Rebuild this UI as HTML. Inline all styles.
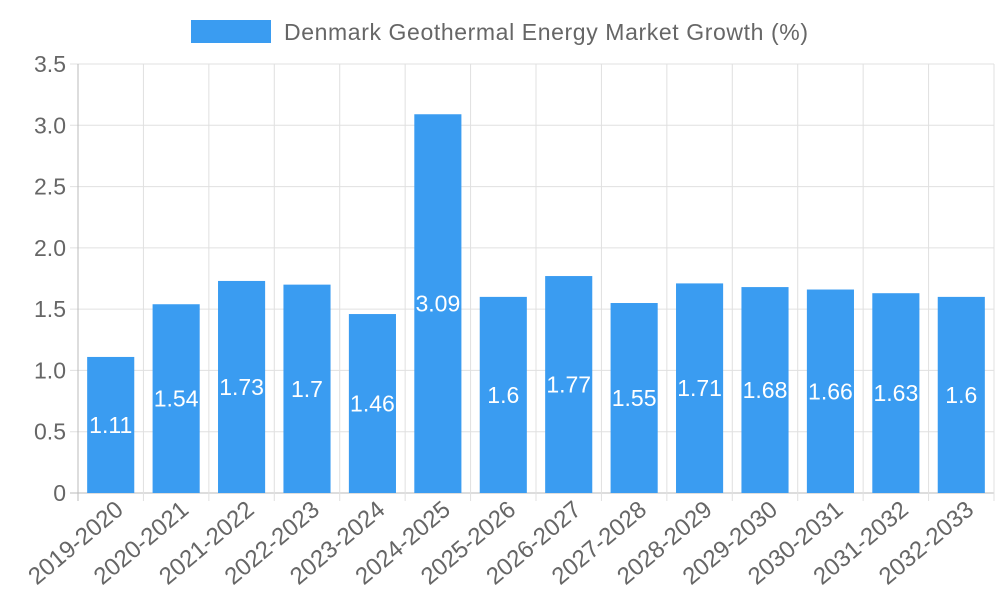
<!DOCTYPE html>
<html><head><meta charset="utf-8"><style>
html,body{margin:0;padding:0;background:#fff;}
svg{display:block;font-family:"Liberation Sans",sans-serif;}
</style></head><body>
<svg id="chart" width="1000" height="600"></svg>
<script>
const categories=["2019-2020","2020-2021","2021-2022","2022-2023","2023-2024","2024-2025","2025-2026","2026-2027","2027-2028","2028-2029","2029-2030","2030-2031","2031-2032","2032-2033"];
const values=[1.11,1.54,1.73,1.7,1.46,3.09,1.6,1.77,1.55,1.71,1.68,1.66,1.63,1.6];
const yTicks=[0,0.5,1.0,1.5,2.0,2.5,3.0,3.5];
const yTickLabels=["0","0.5","1.0","1.5","2.0","2.5","3.0","3.5"];
const seriesName="Denmark Geothermal Energy Market Growth (%)";

const NS="http://www.w3.org/2000/svg";
const svg=document.getElementById('chart');
const L=78,R=994,T=64,B=493,yMax=3.5;
const band=(R-L)/categories.length;
function y(v){return B-(v/yMax)*(B-T);}
function x(i){return L+i*band;}
function mk(tag,attrs,parent){const e=document.createElementNS(NS,tag);for(const k in attrs)e.setAttribute(k,attrs[k]);(parent||svg).appendChild(e);return e;}

const grid=mk('g',{});


yTicks.forEach((t,i)=>{
  mk('line',{x1:L-8,x2:R,y1:y(t),y2:y(t),stroke:i===0?'#bbb':'#e0e0e0','stroke-width':1},grid);
  const tx=mk('text',{x:L-12,y:y(t)+8,'text-anchor':'end','font-size':23,fill:'#666'});
  tx.textContent=yTickLabels[i];
  
  
});
for(let i=0;i<=categories.length;i++){
  mk('line',{x1:x(i),x2:x(i),y1:T,y2:B+8,stroke:i===0?'#bbb':'#e0e0e0','stroke-width':1},grid);
}
categories.forEach((c,i)=>{
  const cx=x(i)+band/2;
  const bw=band*0.72;
  const r=mk('rect',{x:cx-bw/2,y:y(values[i]),width:bw,height:B-y(values[i]),fill:'#3a9cf1'});
  
  
  const vl=mk('text',{x:cx,y:(y(values[i])+B)/2+8,'text-anchor':'middle','font-size':23,fill:'#fff'});
  vl.textContent=values[i];
  
  
  const xl=mk('text',{x:0,y:0,'text-anchor':'end','font-size':24,fill:'#666',transform:`translate(${cx+14},${B+19}) rotate(-40)`});
  xl.textContent=c;
  
  
});
const lg=mk('g',{});


mk('rect',{x:191,y:20,width:80,height:23,fill:'#3a9cf1'},lg);
const lt=mk('text',{x:284,y:40,'font-size':23,fill:'#666',textLength:524},lg);
lt.textContent=seriesName;
</script>
</body></html>
